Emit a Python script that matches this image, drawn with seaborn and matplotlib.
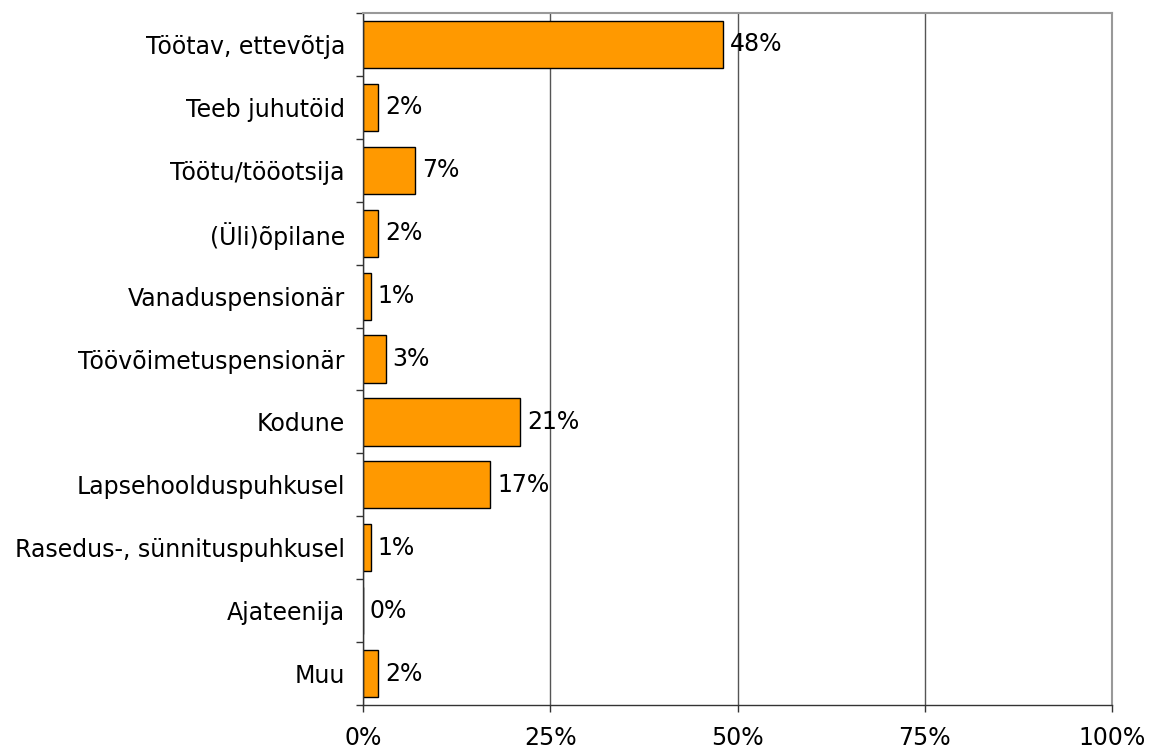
import numpy as np
import pandas as pd
import seaborn as sns
import matplotlib.pyplot as plt
from matplotlib.ticker import FixedLocator

categories = ["Töötav, ettevõtja", "Teeb juhutöid", "Töötu/tööotsija",
              "(Üli)õpilane", "Vanaduspensionär", "Töövõimetuspensionär",
              "Kodune", "Lapsehoolduspuhkusel", "Rasedus-, sünnituspuhkusel",
              "Ajateenija", "Muu"]
values = [48, 2, 7, 2, 1, 3, 21, 17, 1, 0, 2]
xticks = [0, 25, 50, 75, 100]

df = pd.DataFrame({'category': categories, 'value': values})

sns.set_style("white")
plt.rcParams['font.family'] = ['DejaVu Sans']
plt.rcParams['text.color'] = 'black'
plt.rcParams['xtick.color'] = 'black'
plt.rcParams['ytick.color'] = 'black'

fig = plt.figure(figsize=(11.5, 7.49), dpi=100)
ax = fig.add_axes([0.3157, 0.0587, 0.6513, 0.9239])

sns.barplot(data=df, x='value', y='category', orient='h', color='#FF9900',
            saturation=1, edgecolor='black', linewidth=1, width=0.75, ax=ax)

ax.bar_label(ax.containers[0], labels=[f"{v}%" for v in values],
             padding=5, fontsize=17, color='black')

ax.set_xlim(0, 100)
ax.set_ylim(len(categories) - 0.5, -0.5)
ax.set_xticks(xticks)
ax.set_xticklabels([f"{t}%" for t in xticks], fontsize=17)
ax.tick_params(axis='x', bottom=True, length=5, width=1, color='#333333',
               pad=10)
ax.tick_params(axis='y', which='major', left=False, length=0, labelsize=17,
               pad=13)
ax.yaxis.set_minor_locator(FixedLocator(np.arange(-0.5, len(categories), 1)))
ax.tick_params(axis='y', which='minor', left=True, length=5, width=1,
               color='#333333')
ax.set_xlabel("")
ax.set_ylabel("")

ax.grid(axis='x', color='#555555', linewidth=1)
ax.set_axisbelow(True)

for side in ['top', 'right']:
    ax.spines[side].set_color('#999999')
    ax.spines[side].set_linewidth(1.5)
for side in ['left', 'bottom']:
    ax.spines[side].set_color('#333333')
    ax.spines[side].set_linewidth(1)

plt.savefig("out.png", dpi=100)
plt.close()
